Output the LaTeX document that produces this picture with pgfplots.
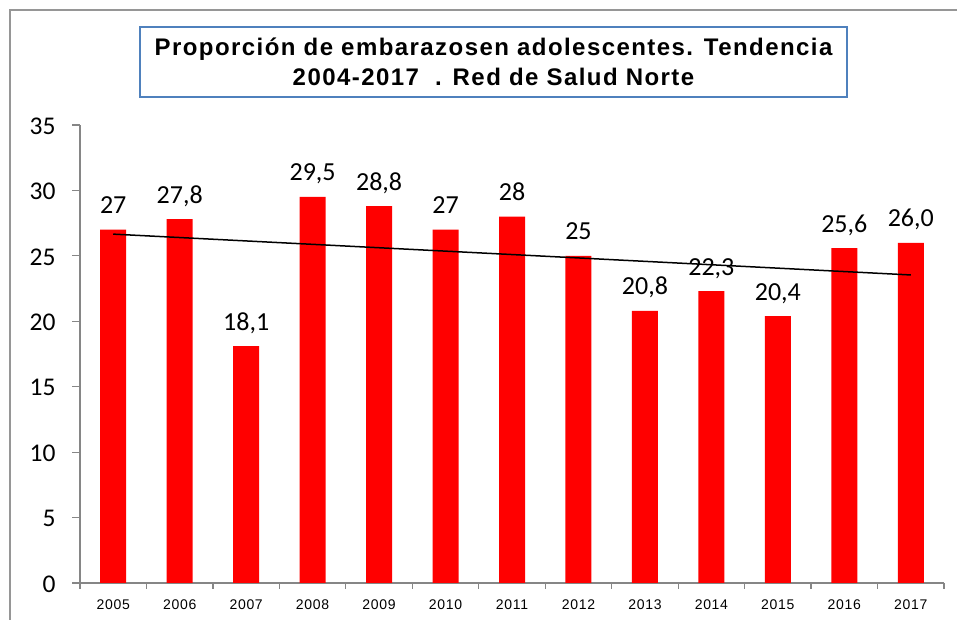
\documentclass[border=0pt]{standalone}
\usepackage{fontspec}
\setmainfont{Carlito}
\newfontfamily\arialfont{Liberation Sans}
\newfontfamily\titlefont[LetterSpace=6]{Liberation Sans}
\newfontfamily\xfont[LetterSpace=5]{Liberation Sans}
\usepackage{pgfplots}
\pgfplotsset{compat=1.18}
\usepackage{pgfplotstable}
\definecolor{axgray}{RGB}{134,134,134}
\definecolor{framegray}{RGB}{150,150,150}
\definecolor{titleblue}{RGB}{79,129,189}
\definecolor{barred}{RGB}{255,0,0}

\pgfplotstableread{
x y lab
0 27.0 27
1 27.8 27,8
2 18.1 18,1
3 29.5 29,5
4 28.8 28,8
5 27.0 27
6 28.0 28
7 25.0 25
8 20.8 20,8
9 22.3 22,3
10 20.4 20,4
11 25.6 25,6
12 26.0 26,0
}\datatable

\begin{document}
\begin{tikzpicture}[x=1pt,y=1pt]
\useasboundingbox (0,0) rectangle (957,620);
\fill[white] (0,0) rectangle (957,620);
\draw[framegray, line width=1.5pt] (10,0) -- (10,610) -- (957,610);
\begin{axis}[
  at={(80pt,37pt)}, anchor=south west,
  scale only axis, width=864pt, height=458pt,
  xmin=-0.5, xmax=12.5, ymin=0, ymax=35,
  axis x line*=bottom, axis y line*=left,
  axis line style={axgray, line width=1.5pt, -},
  tick align=outside,
  ytick={0,5,...,35},
  major tick length=8pt,
  y tick style={axgray, line width=1.2pt},
  xtick={0,...,12},
  xticklabels={2005,2006,2007,2008,2009,2010,2011,2012,2013,2014,2015,2016,2017},
  major x tick style={draw=none},
  minor xtick={-0.5,0.5,...,12.5},
  minor tick length=6pt,
  minor x tick style={axgray, line width=1.2pt},
  /pgf/number format/assume math mode=true,
  yticklabel style={font=\fontsize{25.5}{25.5}\selectfont, xshift=-13pt, yshift=-1pt},
  xticklabel style={font=\xfont\fontsize{14}{14}\selectfont, yshift=-5pt},
  clip=false,
]
\addplot[ybar, bar width=26pt, fill=barred, draw=none,
  nodes near coords, point meta=explicit symbolic,
  every node near coord/.style={anchor=base, yshift=16pt, font=\fontsize{26}{26}\selectfont, black}]
  table[x=x, y=y, meta=lab] {\datatable};
\addplot[black, line width=1.5pt, mark=none] coordinates {(0,26.66) (12,23.54)};
\end{axis}
\node[draw=titleblue, line width=1.2pt, fill=white, minimum width=707pt, minimum height=70pt,
  align=center, inner sep=0pt, font=\titlefont\bfseries\fontsize{24}{30}\selectfont]
  at (493.5,558) {Proporción de embarazosen adolescentes. Tendencia\\2004-2017\ \ . Red de Salud Norte};
\end{tikzpicture}
\end{document}
